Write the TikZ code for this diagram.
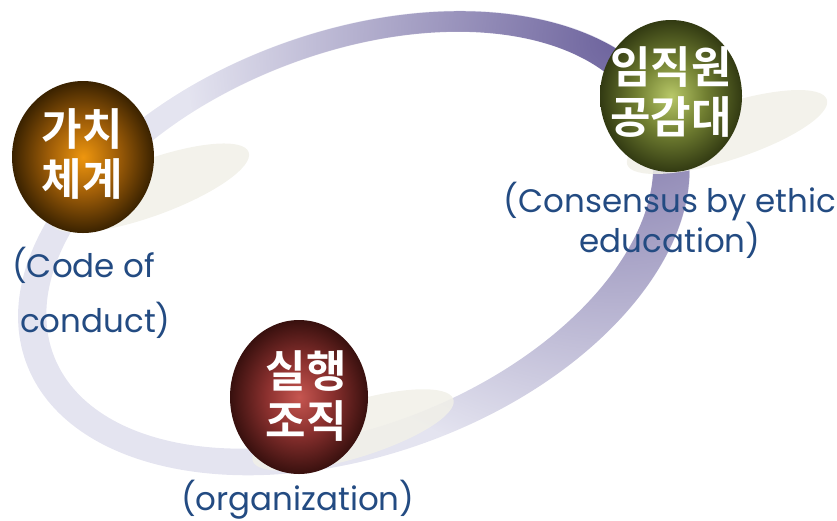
\documentclass[tikz,border=0pt]{standalone}
\usepackage{fontspec}
\usepackage{tikz}
\usetikzlibrary{shapes.geometric,fadings}
\setmainfont{Poppins}
\newfontfamily\krfont{Noto Sans CJK KR}[UprightFont={* Bold}]

\definecolor{ringlight}{RGB}{228,228,240}
\definecolor{ringdark}{RGB}{110,100,158}
\definecolor{shadowbeige}{RGB}{241,240,232}
\definecolor{labelblue}{RGB}{35,75,130}
\definecolor{goldin}{RGB}{238,150,14}
\definecolor{goldmid}{RGB}{160,94,8}
\definecolor{goldout}{RGB}{58,34,0}
\definecolor{greenin}{RGB}{184,200,104}
\definecolor{greenmid}{RGB}{114,128,50}
\definecolor{greenout}{RGB}{50,58,18}
\definecolor{redin}{RGB}{198,86,80}
\definecolor{redmid}{RGB}{138,48,46}
\definecolor{redout}{RGB}{56,16,14}

\pgfdeclareradialshading{goldball}{\pgfpoint{0bp}{0bp}}{color(0bp)=(goldin); color(12bp)=(goldmid); color(25bp)=(goldout); color(50bp)=(goldout)}
\pgfdeclareradialshading{greenball}{\pgfpoint{0bp}{0bp}}{color(0bp)=(greenin); color(12bp)=(greenmid); color(25bp)=(greenout); color(50bp)=(greenout)}
\pgfdeclareradialshading{redball}{\pgfpoint{0bp}{0bp}}{color(0bp)=(redin); color(12bp)=(redmid); color(25bp)=(redout); color(50bp)=(redout)}

\begin{tikzfadingfrompicture}[name=ringfade]
\fill[transparent!100] (-120pt,-120pt) rectangle (120pt,120pt);
\shade[inner color=transparent!0,outer color=transparent!100] (0,0) circle (50pt);
\end{tikzfadingfrompicture}

% the ring, outer edge then inner edge
\newcommand{\ringpath}{(354,243) circle [x radius=349,y radius=212,rotate=20]
  (350,240) circle [x radius=318,y radius=186,rotate=21.5]}

\tikzset{
  ball/.style={ellipse,minimum width=142pt,minimum height=152pt,inner sep=0pt,shade,shading=#1},
  balltext/.style={text=white,font=\krfont\fontsize{44}{50}\selectfont,align=center,inner sep=0pt},
  tag/.style={text=labelblue,font=\fontsize{32.5}{37}\selectfont,inner sep=0pt},
  blot/.style={shadowbeige,opacity=.85}
}

\begin{document}
\begin{tikzpicture}[x=1pt,y=-1pt]
\useasboundingbox (0,0) rectangle (837,520);
% ring
\fill[ringlight,even odd rule] \ringpath;
\fill[ringdark,even odd rule,path fading=ringfade,fit fading=false,
  fading transform={shift={(615,40)},scale=8.6}] \ringpath;
% shadows
\fill[blot,rotate around={20:(150,188)}] (150,188) ellipse (105 and 28);
\fill[blot,rotate around={18:(727,132)}] (727,132) ellipse (105 and 28);
\fill[blot,rotate around={17:(353,430)}] (353,430) ellipse (105 and 28);
% balls
\node[ball=goldball] (gachi) at (83,157) {};
\node[ball=greenball] (gonggam) at (671,96) {};
\node[ball=redball,minimum width=138pt,minimum height=154pt] (silhaeng) at (299,397) {};
\node[balltext] (gachitext) at (82,154) {가치\\체계};
\node[balltext] (gonggamtext) at (671,92) {임직원\\공감대};
\node[balltext] (silhaengtext) at (306,396) {실행\\조직};
% labels
\node[tag,align=left,anchor=base west] (code) at (12,332) {(Code of\\[18pt]\hspace*{8pt}conduct)};
\node[tag,align=center,anchor=base] (consensus) at (670,252) {(Consensus by ethic\\education)};
\node[tag,anchor=base west] (organization) at (181,510) {(organization)};
\end{tikzpicture}
\end{document}
